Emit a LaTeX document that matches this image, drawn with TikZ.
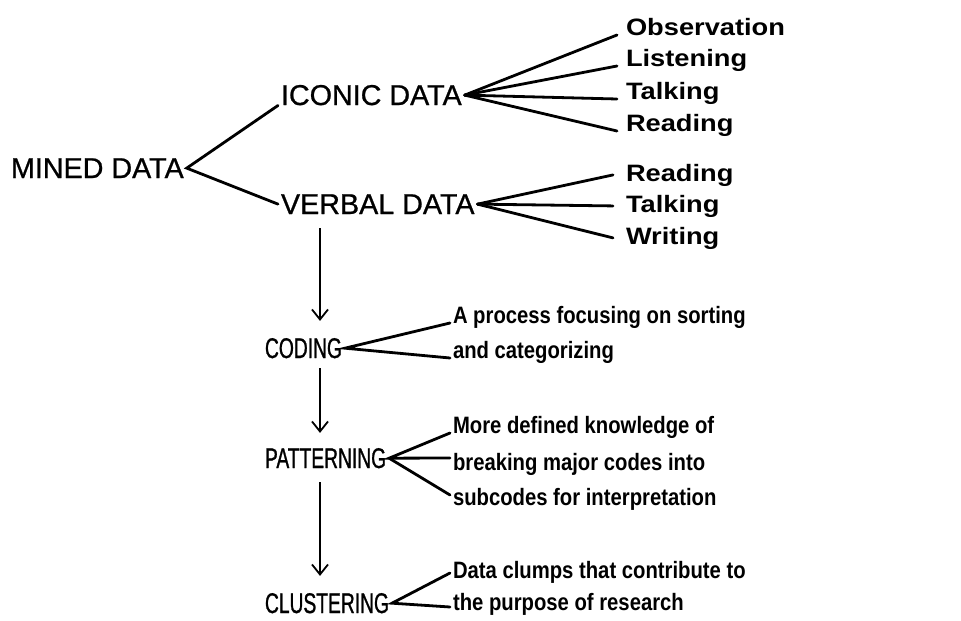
\documentclass[tikz,border=0pt]{standalone}
\usepackage{fontspec}
\usepackage{tikz}
\usetikzlibrary{arrows.meta}
\newfontfamily\topfont[FakeBold=0.8]{Liberation Sans}
\newfontfamily\stagefont[FakeStretch=0.675, FakeBold=0.9]{Liberation Sans}
\newfontfamily\itemfont[FakeStretch=1.15]{Liberation Sans}
\newfontfamily\notefont[FakeStretch=0.855]{Liberation Sans}

\begin{document}
\begin{tikzpicture}[x=1pt, y=-1pt,
    term/.style={anchor=base west, inner sep=0pt, outer xsep=3pt, font=\topfont\fontsize{28.7}{30}\selectfont},
    stage/.style={anchor=base west, inner sep=0pt, outer xsep=3pt, font=\stagefont\fontsize{28.5}{30}\selectfont},
    item/.style={anchor=base west, inner sep=0pt, outer xsep=3pt, font=\itemfont\bfseries\fontsize{23.7}{26}\selectfont},
    note/.style={anchor=base west, inner sep=0pt, outer xsep=3pt, font=\notefont\bfseries\fontsize{23.7}{26}\selectfont},
    branch/.style={line width=2.8pt, line cap=round},
    flow/.style={-{Straight Barb[length=10pt, width=16pt, line width=1.8pt]}, line width=1.8pt},
]
    \useasboundingbox (0,0) rectangle (961,621);

    \node[term] (mined) at (8,178) {MINED DATA};
    \node[term] (iconic) at (278,105) {ICONIC DATA};
    \node[term] (verbal) at (278,214) {VERBAL DATA};

    \node[item] (obs) at (623,35) {Observation};
    \node[item] (lis) at (623,66) {Listening};
    \node[item] (tal) at (623,99) {Talking};
    \node[item] (rea) at (623,131) {Reading};
    \node[item] (reaB) at (623,181) {Reading};
    \node[item] (talB) at (623,212) {Talking};
    \node[item] (wri) at (623,244) {Writing};

    \node[stage] (coding) at (262,358) {CODING};
    \node[stage] (patterning) at (262,468) {PATTERNING};
    \node[stage] (clustering) at (262,613) {CLUSTERING};

    \node[note] (codA) at (450,323) {A process focusing on sorting};
    \node[note] (codB) at (450,358) {and categorizing};
    \node[note] (patA) at (450,433) {More defined knowledge of};
    \node[note] (patB) at (450,470) {breaking major codes into};
    \node[note] (patC) at (450,505) {subcodes for interpretation};
    \node[note] (cluA) at (450,578) {Data clumps that contribute to};
    \node[note] (cluB) at (450,610) {the purpose of research};

    \draw[branch] (iconic.south west) -- (mined.east) -- (verbal.west);
    \foreach \t in {obs,lis,tal,rea}
        \draw[branch] (iconic.east) -- ([xshift=-6pt]\t.base west);
    \foreach \t in {reaB,talB,wri}
        \draw[branch] (verbal.east) -- ([xshift=-10pt]\t.west);
    \draw[branch] (codA.base west) -- (coding.east) -- (codB.base west);
    \draw[branch] (patA.base west) -- (patterning.east) -- ([yshift=12pt]patB.base west);
    \draw[branch] (patterning.east) -- ([yshift=10pt]patC.base west);
    \draw[branch] ([yshift=5pt]cluA.base west) -- (clustering.east) -- ([yshift=3pt]cluB.base west);

    \draw[flow, shorten <=14pt, shorten >=17pt] ([xshift=42pt]verbal.south west) -- ([xshift=58pt]coding.north west);
    \draw[flow, shorten <=10pt, shorten >=15pt] ([xshift=58pt]coding.south west) -- ([xshift=58pt]patterning.north west);
    \draw[flow, shorten <=14pt, shorten >=17pt] ([xshift=58pt]patterning.south west) -- ([xshift=58pt]clustering.north west);
\end{tikzpicture}
\end{document}
